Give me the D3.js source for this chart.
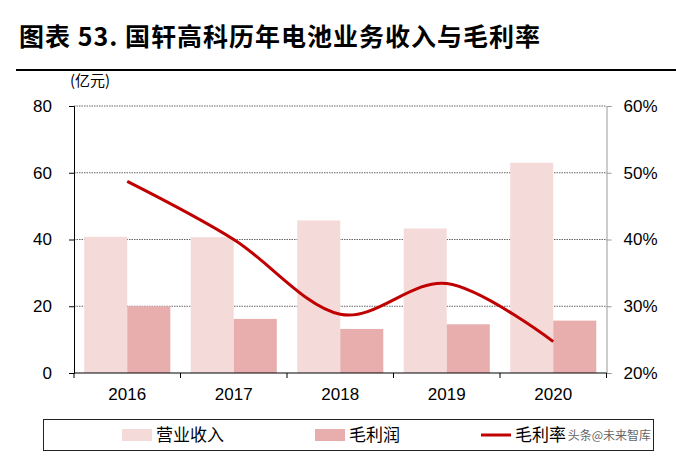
<!DOCTYPE html>
<html>
<head>
<meta charset="utf-8">
<script src="https://cdn.jsdelivr.net/npm/d3@7"></script>
<style>
  body { margin: 0; background: #fff; }
  svg { display: block; }
</style>
</head>
<body>
<svg id="chart"></svg>
<script>
// chart data
const years = ['2016', '2017', '2018', '2019', '2020'];
const revenue = [40.8, 40.7, 45.7, 43.3, 63.0];      // 营业收入 (亿元)
const grossProfit = [20.0, 16.2, 13.2, 14.6, 15.7];  // 毛利润 (亿元)
const grossMargin = [0.487, 0.40, 0.288, 0.334, 0.247]; // 毛利率
const leftTicks = [0, 20, 40, 60, 80];
const rightTicks = [0.2, 0.3, 0.4, 0.5, 0.6];

const width = 676;
const height = 456;
const marginLeft = 74;
const marginRight = 70;
const marginTop = 106;
const plotBottom = 373;

const svg = d3.select('#chart')
	.attr('width', width)
	.attr('height', height)
	.attr('viewBox', [0, 0, width, height]);

const cjk = '"Noto Sans CJK SC", "Noto Sans", sans-serif';
const latin = '"Liberation Sans", Arial, sans-serif';

// title + rule
svg.append('text')
	.attr('x', 19)
	.attr('y', 46)
	.attr('font-family', cjk)
	.attr('font-weight', 'bold')
	.attr('font-size', 25)
	.attr('letter-spacing', 1)
	.attr('fill', '#000')
	.text('图表 53. 国轩高科历年电池业务收入与毛利率');

svg.append('line')
	.attr('x1', 16).attr('x2', width)
	.attr('y1', 70).attr('y2', 70)
	.attr('stroke', '#000')
	.attr('stroke-width', 2);

svg.append('text')
	.attr('x', 70)
	.attr('y', 86)
	.attr('font-family', cjk)
	.attr('font-size', 15)
	.text('(亿元)');

// scales
const x = d3.scaleBand()
	.domain(years)
	.range([marginLeft, width - marginRight + 0.5]);

const xSub = d3.scaleBand()
	.domain(['rev', 'gp'])
	.range([0, x.bandwidth()])
	.paddingOuter(0.237);

const y = d3.scaleLinear().domain([0, 80]).range([plotBottom, marginTop]);
const y2 = d3.scaleLinear().domain([0.2, 0.6]).range([plotBottom, marginTop]);

const right = width - marginRight + 0.5;

// grid lines (dotted)
svg.append('g')
	.selectAll('line')
	.data(leftTicks.filter((d) => d > 0))
	.join('line')
	.attr('x1', marginLeft)
	.attr('x2', right)
	.attr('y1', (d) => y(d))
	.attr('y2', (d) => y(d))
	.attr('stroke', '#666')
	.attr('stroke-width', 1)
	.attr('stroke-dasharray', '1.5,1');

// bars
const groups = svg.append('g')
	.selectAll('g')
	.data(years)
	.join('g')
	.attr('transform', (d) => `translate(${x(d)},0)`);

groups.append('rect')
	.attr('x', xSub('rev'))
	.attr('width', xSub.bandwidth())
	.attr('y', (d, i) => y(revenue[i]))
	.attr('height', (d, i) => y(0) - y(revenue[i]))
	.attr('fill', '#f5dada');

groups.append('rect')
	.attr('x', xSub('gp'))
	.attr('width', xSub.bandwidth())
	.attr('y', (d, i) => y(grossProfit[i]))
	.attr('height', (d, i) => y(0) - y(grossProfit[i]))
	.attr('fill', '#e8aeae');

// margin line
const line = d3.line()
	.x((d, i) => x(years[i]) + x.bandwidth() / 2)
	.y((d) => y2(d))
	.curve(d3.curveCatmullRom.alpha(0));

svg.append('path')
	.datum(grossMargin)
	.attr('d', line)
	.attr('fill', 'none')
	.attr('stroke', '#c00000')
	.attr('stroke-width', 3);

// left axis
svg.append('g')
	.attr('transform', `translate(${marginLeft},0)`)
	.call(d3.axisLeft(y).tickValues(leftTicks).tickSize(5).tickPadding(17))
	.call((g) => g.selectAll('line, path').attr('stroke', '#000'))
	.call((g) => g.selectAll('text')
		.attr('font-family', latin)
		.attr('font-size', 17)
		.attr('fill', '#000'));

// right axis
svg.append('g')
	.attr('transform', `translate(${right},0)`)
	.call(d3.axisRight(y2).tickValues(rightTicks).tickSize(5).tickPadding(12)
		.tickFormat(d3.format('.0%')))
	.call((g) => g.selectAll('line, path').attr('stroke', '#999'))
	.call((g) => g.selectAll('text')
		.attr('font-family', latin)
		.attr('font-size', 17)
		.attr('fill', '#000'));

// bottom axis, ticks at category boundaries
svg.append('g')
	.attr('transform', `translate(0,${plotBottom})`)
	.call((g) => g.append('line')
		.attr('x1', marginLeft).attr('x2', right)
		.attr('stroke', '#000'))
	.call((g) => g.selectAll('line.tk')
		.data(years.concat(['end']))
		.join('line')
		.attr('class', 'tk')
		.attr('x1', (d) => (d === 'end' ? right : x(d)))
		.attr('x2', (d) => (d === 'end' ? right : x(d)))
		.attr('y2', 5)
		.attr('stroke', '#000'))
	.call((g) => g.selectAll('text')
		.data(years)
		.join('text')
		.attr('x', (d) => x(d) + x.bandwidth() / 2)
		.attr('y', 27)
		.attr('text-anchor', 'middle')
		.attr('font-family', latin)
		.attr('font-size', 17)
		.text((d) => d));

// legend
const legend = svg.append('g');
legend.append('rect')
	.attr('x', 43.5).attr('y', 419.5)
	.attr('width', 610).attr('height', 31)
	.attr('fill', 'none')
	.attr('stroke', '#222');

const legendItems = [
	{ label: '营业收入', type: 'rect', color: '#f5dada', x: 122 },
	{ label: '毛利润', type: 'rect', color: '#e8aeae', x: 315 },
	{ label: '毛利率', type: 'line', color: '#c00000', x: 481 },
];

legendItems.forEach((d) => {
	if (d.type === 'rect') {
		legend.append('rect')
			.attr('x', d.x).attr('y', 429)
			.attr('width', 30).attr('height', 12)
			.attr('fill', d.color);
	} else {
		legend.append('line')
			.attr('x1', d.x).attr('x2', d.x + 30)
			.attr('y1', 435).attr('y2', 435)
			.attr('stroke', d.color)
			.attr('stroke-width', 3);
	}
	legend.append('text')
		.attr('x', d.x + 34)
		.attr('y', 441)
		.attr('font-family', cjk)
		.attr('font-size', 17)
		.text(d.label);
});

// watermark
svg.append('text')
	.attr('x', 651)
	.attr('y', 440)
	.attr('text-anchor', 'end')
	.attr('font-family', cjk)
	.attr('font-size', 12)
	.attr('fill', '#666')
	.text('头条@未来智库');
</script>
</body>
</html>
